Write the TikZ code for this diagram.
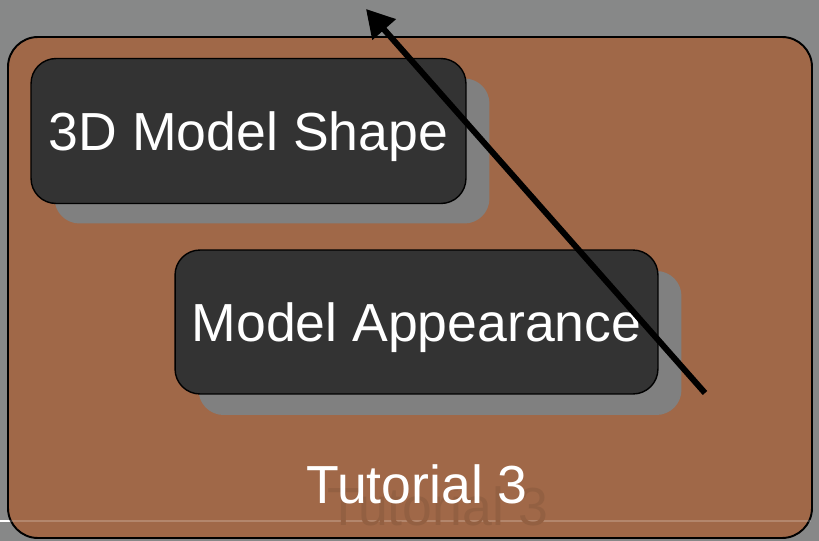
\documentclass[tikz,border=0pt]{standalone}
\usepackage{fontspec}
\setmainfont{Liberation Sans}
\usetikzlibrary{arrows.meta}

\definecolor{slidegray}{HTML}{878888}
\definecolor{tutbrown}{HTML}{A06848}
\definecolor{panelgray}{HTML}{333333}
\definecolor{shadowgray}{HTML}{808080}
\newcommand{\bigfont}{\fontsize{30.5}{36}\selectfont}

\tikzset{
	panel/.style={draw=black, line width=0.8pt, fill=panelgray, rounded corners=0.5cm,
		text=white, font=\bigfont, inner sep=0pt, text height=22pt, text depth=0pt},
	backpanel/.style={fill=shadowgray, rounded corners=0.5cm, inner sep=0pt},
}

\begin{document}
\begin{tikzpicture}[x=0.02cm, y=-0.02cm]
\useasboundingbox (0,0) rectangle (819,541);
\fill[slidegray] (0,0) rectangle (819,541);
\draw[white, line width=1pt] (0,521) -- (30,521);
\draw[fill=tutbrown, line width=1.1pt, rounded corners=0.6cm] (8,37) rectangle (812,538);
\draw[white, opacity=0.2, line width=1pt] (9,521) -- (811,521);

% shadows under the boxes
\node[backpanel, minimum width=8.7cm, minimum height=2.9cm] (shapeshadow) at (272,151) {};
\node[backpanel, minimum width=9.66cm, minimum height=2.88cm] (lookshadow) at (440,343) {};

\node[panel, minimum width=8.7cm, minimum height=2.9cm] (shape) at (248.5,131) {3D Model Shape};
\node[panel, minimum width=9.66cm, minimum height=2.88cm] (look) at (416.5,322) {Model Appearance};

\node[text=tutbrown!92!black, font=\bigfont] (tutshadow) at (438,506) {Tutorial 3};
\node[text=white, font=\bigfont] (tut) at (417,484) {Tutorial 3};

\coordinate (from) at (705,393);
\coordinate (to) at (366,9);
\draw[line width=0.12cm, -{Triangle[length=0.55cm, width=0.6cm]}] (from) -- (to);
\end{tikzpicture}
\end{document}
